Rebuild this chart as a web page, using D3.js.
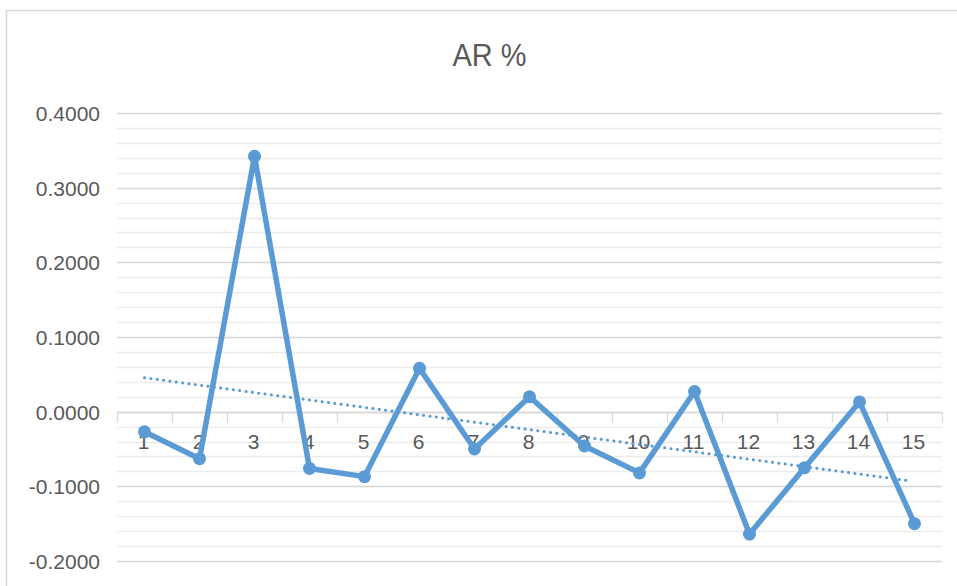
<!DOCTYPE html>
<html>
<head>
<meta charset="utf-8">
<script src="https://cdn.jsdelivr.net/npm/d3@7/dist/d3.min.js"></script>
<style>
  html, body { margin: 0; padding: 0; background: #fff; }
  svg { display: block; }
</style>
</head>
<body>
<svg id="chart" width="957" height="586"></svg>
<script>
const title = "AR %";
const categories = ["1","2","3","4","5","6","7","8","9","10","11","12","13","14","15"];
const arValues = [-0.027, -0.063, 0.342, -0.076, -0.087, 0.058, -0.050, 0.020, -0.046, -0.082, 0.027, -0.164, -0.075, 0.013, -0.150];
const yTicks = [-0.2, -0.1, 0.0, 0.1, 0.2, 0.3, 0.4];
const yMinorTicks = d3.range(-0.2, 0.4001, 0.02);

const svg = d3.select("#chart");
const W = 957, H = 586;
const plot = { left: 117, right: 942, top: 113, bottom: 561 };
const blue = "#5B9BD5";
const textColor = "#595959";
const font = "'Liberation Sans', Arial, sans-serif";

// chart border
svg.append("rect").attr("x", 6.5).attr("y", 10.5).attr("width", W + 10).attr("height", H + 10)
  .attr("fill", "#fff").attr("stroke", "#d9d9d9").attr("stroke-width", 1.5);

const x = d3.scaleBand().domain(categories).range([plot.left, plot.right]).padding(0);
const y = d3.scaleLinear().domain([-0.2, 0.4]).range([plot.bottom, plot.top]);

// minor gridlines
svg.append("g").selectAll("line").data(yMinorTicks).join("line")
  .attr("x1", plot.left).attr("x2", plot.right)
  .attr("y1", d => Math.round(y(d)) + 0.5).attr("y2", d => Math.round(y(d)) + 0.5)
  .attr("stroke", "#ececec").attr("stroke-width", 1.3);

// major gridlines
svg.append("g").selectAll("line").data(yTicks).join("line")
  .attr("x1", plot.left).attr("x2", plot.right)
  .attr("y1", d => Math.round(y(d)) + 0.5).attr("y2", d => Math.round(y(d)) + 0.5)
  .attr("stroke", "#d9d9d9").attr("stroke-width", 1.3);

// y axis labels (hyphen-minus like the reference)
const fmt = d3.format(".4f");
const yAxis = d3.axisLeft(y).tickValues(yTicks)
  .tickFormat(d => fmt(d).replace("\u2212", "-")).tickSize(0).tickPadding(17);
const yg = svg.append("g").attr("transform", `translate(${plot.left},0)`).call(yAxis);
yg.select(".domain").remove();
yg.selectAll("text").attr("fill", textColor).attr("font-size", 21).attr("font-family", font)
  .attr("dy", "0.36em");

// x axis at zero with tick marks
const xAxis = d3.axisBottom(x).tickSize(0).tickPadding(0);
const zeroY = Math.round(y(0)) + 0.5;
const xg = svg.append("g").attr("transform", `translate(0,${zeroY})`).call(xAxis);
xg.select(".domain").attr("stroke", "#d9d9d9").attr("stroke-width", 1.3)
  .attr("d", `M${plot.left},0H${plot.right}`);
xg.selectAll("text").attr("fill", textColor).attr("font-size", 21).attr("font-family", font)
  .attr("dy", "1.72em").attr("dx", -1);
// category boundary ticks
const boundaries = categories.map(c => x(c)).concat([plot.right]);
svg.append("g").selectAll("line").data(boundaries).join("line")
  .attr("x1", d => Math.round(d) + 0.5).attr("x2", d => Math.round(d) + 0.5)
  .attr("y1", zeroY).attr("y2", zeroY + 10)
  .attr("stroke", "#d9d9d9").attr("stroke-width", 1.3);

// title
svg.append("text").attr("x", 489.5).attr("y", 66).attr("text-anchor", "middle")
  .attr("font-family", font).attr("font-size", 32).attr("fill", textColor)
  .attr("textLength", 74).attr("lengthAdjust", "spacingAndGlyphs")
  .text(title);

const cx = d => x(d) + x.bandwidth() / 2;
const pts = categories.map((c, i) => [cx(c), y(arValues[i])]);

// linear trendline computed from the series (least squares)
const idx = arValues.map((_, i) => i + 1);
const mx = d3.mean(idx), my = d3.mean(arValues);
const slope = d3.sum(idx, (xi, i) => (xi - mx) * (arValues[i] - my)) / d3.sum(idx, xi => (xi - mx) ** 2);
const icpt = my - slope * mx;
const trendEnds = [1, 15];
svg.append("line")
  .attr("x1", cx(categories[0])).attr("y1", y(icpt + slope * trendEnds[0]))
  .attr("x2", cx(categories[14]) - 6).attr("y2", y(icpt + slope * (trendEnds[1] - 0.1)))
  .attr("stroke", blue).attr("stroke-width", 3).attr("stroke-linecap", "round")
  .attr("stroke-dasharray", "0.1,6.3");

// series line
svg.append("path").datum(pts)
  .attr("d", d3.line())
  .attr("fill", "none").attr("stroke", blue).attr("stroke-width", 5.5)
  .attr("stroke-linejoin", "round").attr("stroke-linecap", "round");

// markers
svg.append("g").selectAll("circle").data(pts).join("circle")
  .attr("cx", d => d[0]).attr("cy", d => d[1]).attr("r", 6.5)
  .attr("fill", blue);
</script>
</body>
</html>
